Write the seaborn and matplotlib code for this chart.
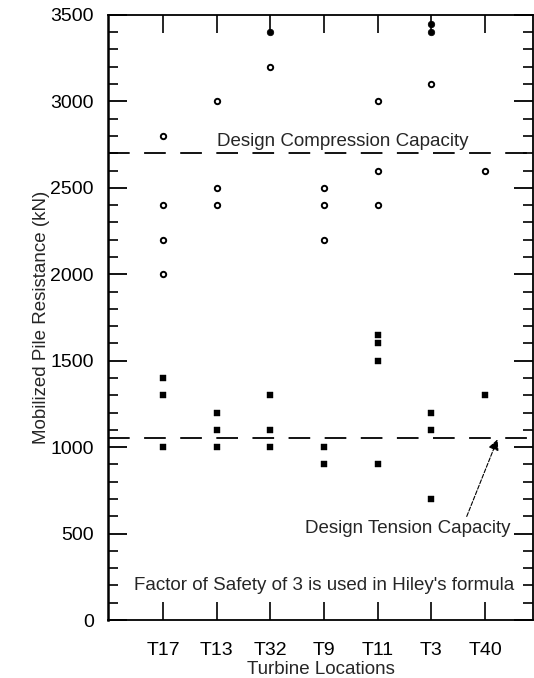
import matplotlib
matplotlib.use("Agg")
import matplotlib.pyplot as plt
from matplotlib.ticker import MultipleLocator
import seaborn as sns
import pandas as pd

# data
locations = ['T17', 'T13', 'T32', 'T9', 'T11', 'T3', 'T40']

comp_loc = ['T17', 'T17', 'T17', 'T17', 'T13', 'T13', 'T13', 'T32',
            'T9', 'T9', 'T9', 'T11', 'T11', 'T11', 'T3', 'T40']
comp_val = [2800, 2400, 2200, 2000, 3000, 2500, 2400, 3200,
            2500, 2400, 2200, 3000, 2600, 2400, 3100, 2600]

top_loc = ['T32', 'T3', 'T3']
top_val = [3400, 3400, 3450]

tens_loc = ['T17', 'T17', 'T17', 'T13', 'T13', 'T13', 'T32', 'T32', 'T32',
            'T9', 'T9', 'T11', 'T11', 'T11', 'T11', 'T3', 'T3', 'T3', 'T40']
tens_val = [1400, 1300, 1000, 1200, 1100, 1000, 1300, 1100, 1000,
            1000, 900, 1650, 1600, 1500, 900, 1200, 1100, 700, 1300]

design_compression = 2700
design_tension = 1050

pos = {loc: i for i, loc in enumerate(locations)}
comp = pd.DataFrame({'loc': comp_loc, 'value': comp_val})
comp['x'] = comp['loc'].map(pos)
top = pd.DataFrame({'loc': top_loc, 'value': top_val})
top['x'] = top['loc'].map(pos)
tens = pd.DataFrame({'loc': tens_loc, 'value': tens_val})
tens['x'] = tens['loc'].map(pos)

sns.set_style("ticks")
plt.rcParams['font.family'] = ['Liberation Sans', 'DejaVu Sans']

fig = plt.figure(figsize=(5.34, 6.78), dpi=100)
ax = fig.add_axes([0.202, 0.0855, 0.797, 0.8925])

sns.scatterplot(data=comp, x='x', y='value', ax=ax, marker='o', s=15,
                facecolor='white', edgecolor='black', linewidth=1.4, zorder=3)
sns.scatterplot(data=top, x='x', y='value', ax=ax, marker='o', s=22,
                color='black', edgecolor='black', linewidth=0.5, zorder=3)
sns.scatterplot(data=tens, x='x', y='value', ax=ax, marker='s', s=20,
                color='black', edgecolor='black', linewidth=0.3, zorder=3)

ax.axhline(design_compression, color='black', lw=1.3, ls=(0, (12, 8)))
ax.axhline(design_tension, color='black', lw=1.3, ls=(0, (12, 8)))

ax.text(3.35, 2740, 'Design Compression Capacity', ha='center', va='baseline', fontsize=13.5)
ax.annotate('Design Tension Capacity', xy=(6.23, 1045), xytext=(4.56, 505),
            ha='center', va='baseline', fontsize=13.5,
            arrowprops=dict(arrowstyle='-|>', color='black', lw=0.8, ls='--',
                            mutation_scale=16, shrinkA=0, shrinkB=0,
                            relpos=(0.78, 1.0)))
ax.text(3.0, 174, "Factor of Safety of 3 is used in Hiley's formula",
        ha='center', va='baseline', fontsize=13.5)

ax.set_xlim(-1.03, 6.9)
ax.set_ylim(0, 3500)
ax.set_xticks(range(len(locations)))
ax.set_xticklabels(locations)
ax.yaxis.set_major_locator(MultipleLocator(500))
ax.yaxis.set_minor_locator(MultipleLocator(100))

ax.tick_params(axis='both', which='both', direction='in', top=True, right=True,
               color='black', labelsize=14, labelcolor='black')
ax.tick_params(axis='y', which='major', length=14, width=1.3, pad=10)
ax.tick_params(axis='y', which='minor', length=7, width=1.2)
ax.tick_params(axis='x', which='major', length=13, width=1.2, pad=16)

for sp in ax.spines.values():
    sp.set_visible(True)
    sp.set_color('black')
    sp.set_linewidth(1.3)
ax.spines['left'].set_linewidth(1.8)

ax.set_xlabel('Turbine Locations', fontsize=13.5, labelpad=1)
ax.set_ylabel('Mobilized Pile Resistance (kN)', fontsize=13.5, labelpad=0)

fig.savefig('out.png', dpi=100, facecolor='white')
